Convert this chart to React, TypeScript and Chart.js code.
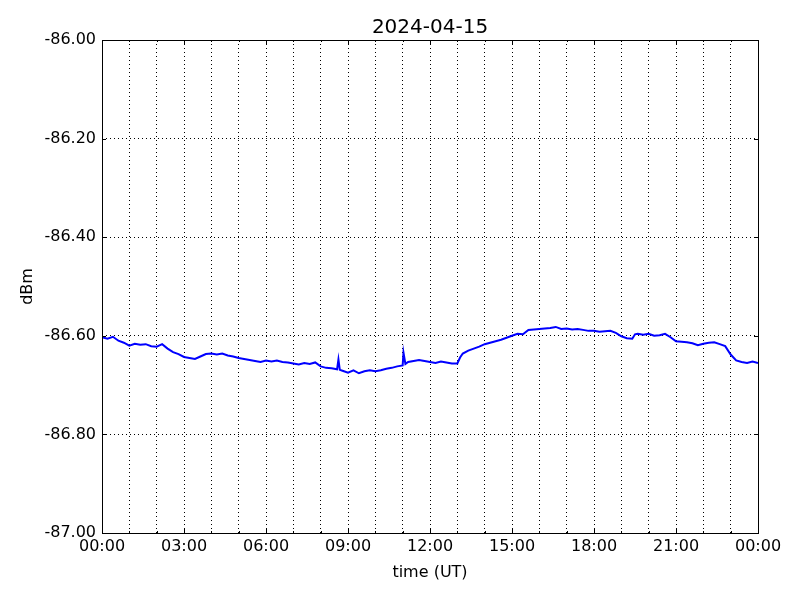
import React, { useEffect, useRef } from "react";
import { Chart, registerables } from "chart.js";

Chart.register(...registerables);

const TITLE = "2024-04-15";
const X_LABEL = "time (UT)";
const Y_LABEL = "dBm";

const hours: number[] = [
  0.0, 0.2, 0.4, 0.6, 0.8, 1.0, 1.2, 1.4, 1.6, 1.8,
  2.0, 2.2, 2.4, 2.6, 2.8, 3.0, 3.2, 3.4, 3.6, 3.8,
  4.0, 4.2, 4.4, 4.6, 4.8, 5.0, 5.2, 5.4, 5.6, 5.8,
  6.0, 6.2, 6.4, 6.6, 6.8, 7.0, 7.2, 7.4, 7.6, 7.8,
  8.0, 8.2, 8.4, 8.6, 8.65, 8.7, 8.8, 9.0, 9.2, 9.4, 9.6, 9.8,
  10.0, 10.2, 10.4, 10.6, 10.8, 11.0, 11.03, 11.1, 11.2, 11.4, 11.6, 11.8,
  12.0, 12.2, 12.4, 12.6, 12.8, 13.0, 13.1, 13.2, 13.4, 13.6, 13.8,
  14.0, 14.2, 14.4, 14.6, 14.8, 15.0, 15.2, 15.4, 15.6, 15.8,
  16.0, 16.2, 16.4, 16.6, 16.8, 17.0, 17.2, 17.4, 17.6, 17.8,
  18.0, 18.2, 18.4, 18.6, 18.8, 19.0, 19.2, 19.4, 19.5, 19.6, 19.8,
  20.0, 20.2, 20.4, 20.6, 20.8, 21.0, 21.2, 21.4, 21.6, 21.8,
  22.0, 22.2, 22.4, 22.6, 22.8, 23.0, 23.2, 23.4, 23.6, 23.8, 24.0,
];

const dbm: number[] = [
  -86.603, -86.606, -86.602, -86.61, -86.614, -86.62, -86.616, -86.618, -86.617, -86.621,
  -86.622, -86.617, -86.626, -86.633, -86.637, -86.643, -86.645, -86.647, -86.642, -86.637,
  -86.636, -86.638, -86.636, -86.64, -86.642, -86.645, -86.647, -86.649, -86.651, -86.653,
  -86.65, -86.652, -86.65, -86.653, -86.654, -86.656, -86.658, -86.655, -86.657, -86.654,
  -86.662, -86.665, -86.666, -86.668, -86.648, -86.669, -86.671, -86.675, -86.67, -86.676, -86.672, -86.67,
  -86.672, -86.67, -86.667, -86.665, -86.662, -86.66, -86.634, -86.657, -86.653, -86.651, -86.649, -86.651,
  -86.653, -86.655, -86.652, -86.654, -86.656, -86.656, -86.644, -86.636, -86.63, -86.626, -86.622,
  -86.617, -86.614, -86.611, -86.608, -86.604, -86.6, -86.596, -86.597, -86.588, -86.587,
  -86.586, -86.585, -86.584, -86.582, -86.586, -86.585, -86.587, -86.586, -86.588, -86.59,
  -86.59, -86.592, -86.591, -86.59, -86.594, -86.601, -86.605, -86.606, -86.597, -86.596, -86.598,
  -86.596, -86.6, -86.599, -86.596, -86.603, -86.611, -86.612, -86.613, -86.615, -86.619,
  -86.616, -86.614, -86.613, -86.617, -86.621, -86.638, -86.65, -86.653, -86.655, -86.652, -86.655,
];

const X_MIN = 0;
const X_MAX = 24;
const Y_MIN = -87;
const Y_MAX = -86;

const FONT = "'DejaVu Sans', sans-serif";

const fmtHour = (v: number) => {
  const h = Math.round(v) % 24;
  return (h < 10 ? "0" : "") + h + ":00";
};

const framePlugin = {
  id: "frameTicks",
  afterDraw(chart: any) {
    const { ctx, chartArea } = chart;
    const { left, right, top, bottom } = chartArea;
    const xs = chart.scales.x;
    const ys = chart.scales.y;
    ctx.save();
    ctx.strokeStyle = "#000";
    ctx.lineWidth = 1;
    ctx.setLineDash([]);
    ctx.beginPath();
    xs.ticks.forEach((t: any) => {
      const px = Math.round(xs.getPixelForValue(t.value)) + 0.5;
      const len = Math.round(t.value) % 3 === 0 ? 4 : 2;
      ctx.moveTo(px, bottom);
      ctx.lineTo(px, bottom - len);
      ctx.moveTo(px, top);
      ctx.lineTo(px, top + len);
    });
    ys.ticks.forEach((t: any) => {
      const py = Math.round(ys.getPixelForValue(t.value)) + 0.5;
      ctx.moveTo(left, py);
      ctx.lineTo(left + 4, py);
      ctx.moveTo(right, py);
      ctx.lineTo(right - 4, py);
    });
    ctx.stroke();
    ctx.strokeRect(Math.round(left) + 0.5, Math.round(top) + 0.5, Math.round(right - left), Math.round(bottom - top));
    ctx.restore();
  },
};

export default function App() {
  const ref = useRef<HTMLCanvasElement | null>(null);

  useEffect(() => {
    if (!ref.current) return;
    Chart.defaults.color = "#000";
    Chart.defaults.font.family = FONT;
    const points = hours.map((h, i) => ({ x: h, y: dbm[i] }));
    const chart = new Chart(ref.current, {
      type: "line",
      data: {
        datasets: [
          {
            data: points,
            borderColor: "#0000ff",
            borderWidth: 2,
            pointRadius: 0,
            tension: 0,
            fill: false,
          },
        ],
      },
      options: {
        animation: false,
        responsive: false,
        maintainAspectRatio: false,
        layout: { padding: { left: 0, right: 42, top: 0, bottom: 0 } },
        plugins: {
          legend: { display: false },
          tooltip: { enabled: false },
          title: {
            display: true,
            fullSize: false,
            text: TITLE,
            color: "#000",
            font: { family: FONT, size: 20, weight: "normal" },
            padding: { top: 16, bottom: 0 },
          },
        },
        scales: {
          x: {
            type: "linear",
            min: X_MIN,
            max: X_MAX,
            afterFit: (s: any) => {
              s.height = 67;
            },
            ticks: {
              stepSize: 1,
              autoSkip: false,
              maxRotation: 0,
              padding: 4,
              color: "#000",
              font: { family: FONT, size: 16 },
              callback: (v: any) => (Math.round(v) % 3 === 0 ? fmtHour(v) : ""),
            },
            grid: { color: "#000", lineWidth: 1, drawTicks: false },
            border: { display: false, dash: [1, 3] },
            title: {
              display: true,
              text: X_LABEL,
              color: "#000",
              font: { family: FONT, size: 16 },
              padding: { top: 0, bottom: 18 },
            },
          },
          y: {
            type: "linear",
            min: Y_MIN,
            max: Y_MAX,
            afterFit: (s: any) => {
              s.width = 102;
            },
            ticks: {
              stepSize: 0.2,
              padding: 6,
              color: "#000",
              font: { family: FONT, size: 16 },
              callback: (v: any) => Number(v).toFixed(2),
            },
            grid: { color: "#000", lineWidth: 1, drawTicks: false },
            border: { display: false, dash: [1, 3] },
            title: {
              display: true,
              text: Y_LABEL,
              color: "#000",
              font: { family: FONT, size: 16 },
              padding: { top: 18, bottom: 0 },
            },
          },
        },
      },
      plugins: [framePlugin],
    });
    return () => chart.destroy();
  }, []);

  return (
    <div style={{ position: "absolute", left: 0, top: 0, width: 800, height: 600, background: "#fff" }}>
      <canvas ref={ref} width={800} height={600} style={{ width: 800, height: 600 }} />
    </div>
  );
}
